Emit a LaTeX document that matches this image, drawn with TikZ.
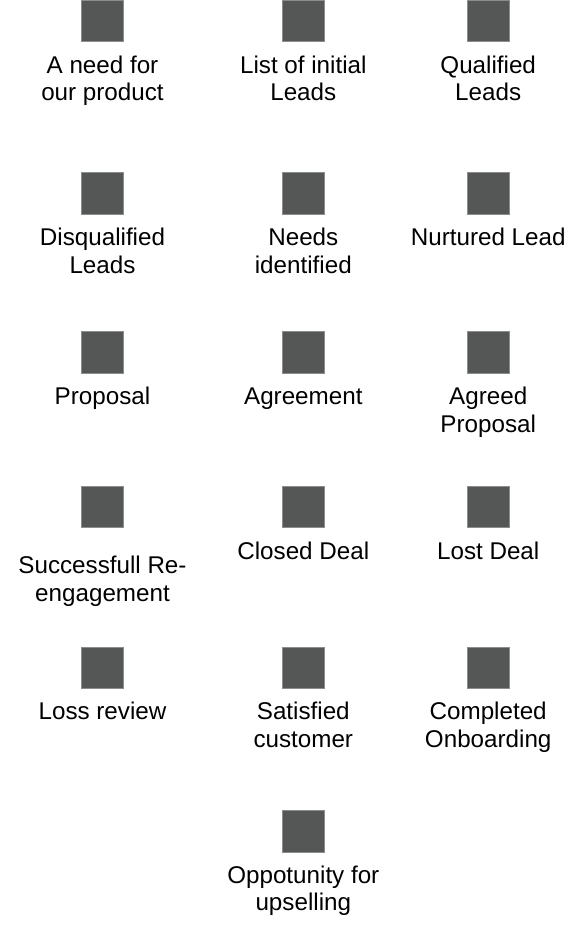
\documentclass[tikz,border=0pt]{standalone}
\usepackage{fontspec}
\setmainfont{Liberation Sans}
\definecolor{StageGrey}{RGB}{85, 87, 86}
\definecolor{StageEdge}{RGB}{140, 142, 141}
\usetikzlibrary{positioning}

\begin{document}
\begin{tikzpicture}[
  x=1pt, y=1pt,
  stage/.style={
    rectangle, draw=StageEdge, fill=StageGrey, line width=0.6pt,
    minimum width=41.5pt, minimum height=41.5pt, inner sep=0pt
  },
  caption/.style={
    inner sep=0pt, align=center, anchor=base,
    font=\fontsize{24.2}{27.6}\selectfont
  },
]
\useasboundingbox (0,0) rectangle (572,-925);

% squares
\node[stage] (need) at (102.5,-21) {};
\node[stage] (initial) at (303.3,-21) {};
\node[stage] (qualified) at (488.2,-21) {};
\node[stage] (disq) at (102.5,-193.5) {};
\node[stage] (needs) at (303.3,-193.5) {};
\node[stage] (nurtured) at (488.2,-193.5) {};
\node[stage] (proposal) at (102.5,-352.5) {};
\node[stage] (agreement) at (303.3,-352.5) {};
\node[stage] (agreed) at (488.2,-352.5) {};
\node[stage] (reengage) at (102.5,-507) {};
\node[stage] (closed) at (303.3,-507) {};
\node[stage] (lost) at (488.2,-507) {};
\node[stage] (review) at (102.5,-667.7) {};
\node[stage] (satisfied) at (303.3,-667.7) {};
\node[stage] (onboarding) at (488.2,-667.7) {};
\node[stage] (upsell) at (303.3,-831.3) {};

% captions (base = last line, so two-line captions sit one line lower)
\node[below=58.6pt of need.south, caption] (need-l) {A need for\\our product};
\node[below=58.6pt of initial.south, caption] (initial-l) {List of initial\\Leads};
\node[below=58.6pt of qualified.south, caption] (qualified-l) {Qualified\\Leads};
\node[below=58.6pt of disq.south, caption] (disq-l) {Disqualified\\Leads};
\node[below=58.6pt of needs.south, caption] (needs-l) {Needs\\identified};
\node[below=31pt of nurtured.south, caption] (nurtured-l) {Nurtured Lead};
\node[below=31pt of proposal.south, caption] (proposal-l) {Proposal};
\node[below=31pt of agreement.south, caption] (agreement-l) {Agreement};
\node[below=58.6pt of agreed.south, caption] (agreed-l) {Agreed\\Proposal};
\node[below=73pt of reengage.south, caption] (reengage-l) {Successfull Re-\\engagement};
\node[below=31pt of closed.south, caption] (closed-l) {Closed Deal};
\node[below=31pt of lost.south, caption] (lost-l) {Lost Deal};
\node[below=31pt of review.south, caption] (review-l) {Loss review};
\node[below=58.6pt of satisfied.south, caption] (satisfied-l) {Satisfied\\customer};
\node[below=58.6pt of onboarding.south, caption] (onboarding-l) {Completed\\Onboarding};
\node[below=58.6pt of upsell.south, caption] (upsell-l) {Oppotunity for\\upselling};
\end{tikzpicture}
\end{document}
